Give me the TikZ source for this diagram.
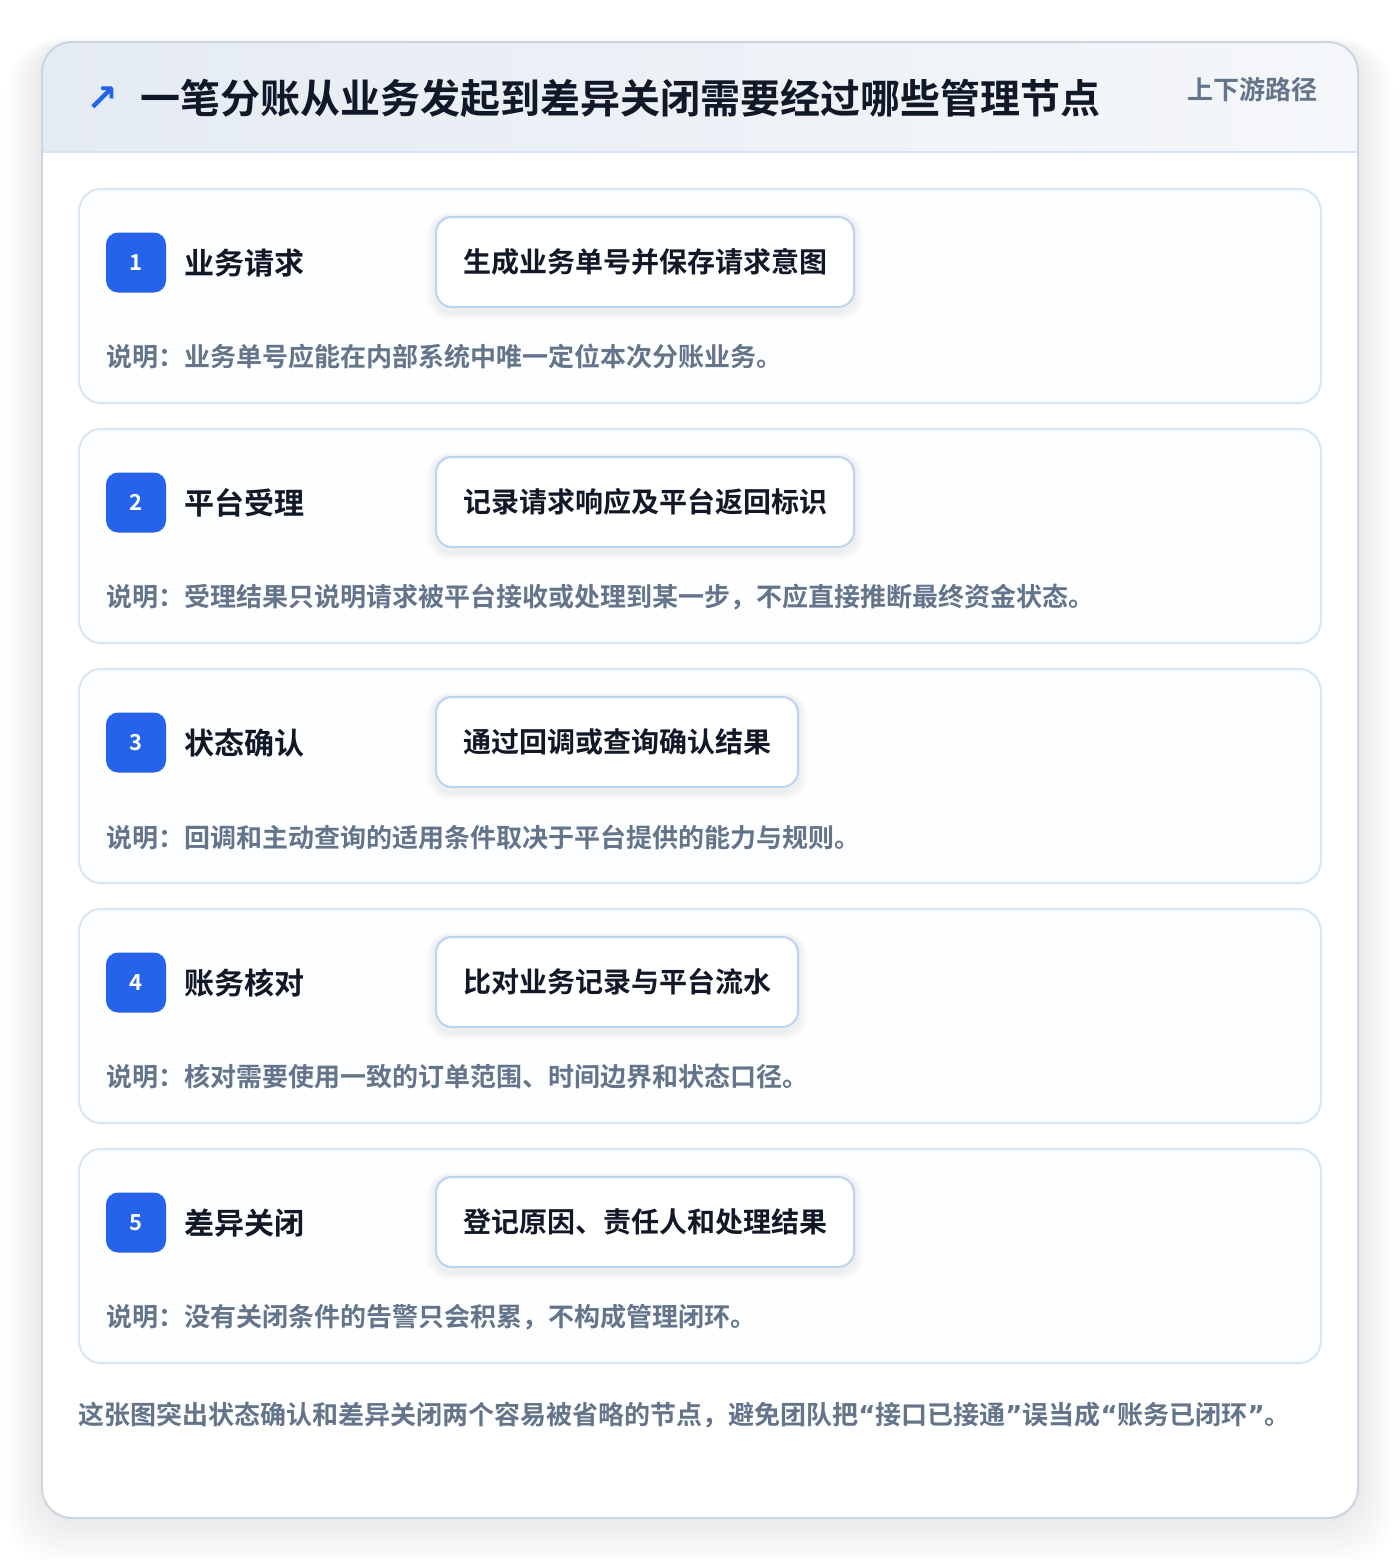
\documentclass[tikz,border=0pt]{standalone}
\usepackage{fontspec}
\setmainfont{Noto Sans CJK SC}[BoldFont={Noto Sans CJK SC Bold}]
\newfontfamily\symfont{DejaVu Sans}
\definecolor{pagebg}{HTML}{FFFFFF}
\definecolor{cardedge}{HTML}{CBD5E1}
\definecolor{headA}{HTML}{E5EBF3}
\definecolor{headB}{HTML}{F5F7FA}
\definecolor{headline}{HTML}{D3E2F4}
\definecolor{stepedge}{HTML}{D8E6F6}
\definecolor{stepfill}{HTML}{FDFEFF}
\definecolor{actedge}{HTML}{BCD4F1}
\definecolor{blueA}{HTML}{2563EB}
\definecolor{ink}{HTML}{111827}
\definecolor{muted}{HTML}{64748B}
\definecolor{shadowc}{HTML}{1E293B}
\begin{document}
\begin{tikzpicture}[x=0.5pt,y=-0.5pt,
  stepcard/.style={draw=stepedge, line width=1pt, fill=stepfill, rounded corners=11pt},
  badge/.style={fill=blueA, rounded corners=6pt, minimum width=30pt, minimum height=30pt, inner sep=0pt, text=white, font=\bfseries\fontsize{11}{13}\selectfont},
  steplabel/.style={anchor=west, inner sep=0pt, text=ink, font=\bfseries\fontsize{15}{18}\selectfont},
  actbox/.style={anchor=west, draw=actedge, line width=1pt, fill=white, rounded corners=8pt, minimum height=45pt, inner xsep=13.5pt, inner ysep=0pt, text=ink, font=\bfseries\fontsize{14}{17}\selectfont},
  desc/.style={anchor=west, inner sep=0pt, text=muted, font=\bfseries\fontsize{13}{16}\selectfont}
]
\useasboundingbox (0,0) rectangle (1400,1560);
\fill[pagebg] (0,0) rectangle (1400,1560);
% outer card shadow
\foreach \k in {1,...,20}{
  \fill[shadowc, opacity=0.0045, rounded corners=15pt+\k*0.6pt]
    (42-1.8*\k,42-0.4*\k+4) rectangle (1358+1.8*\k,1518+2.4*\k);
}
% outer card
\path[fill=white, rounded corners=15pt] (42,42) rectangle (1358,1518);
\begin{scope}
  \clip[rounded corners=15pt] (42,42) rectangle (1358,1518);
  \shade[left color=headA, right color=headB] (42,42) rectangle (1358,152);
\end{scope}
\draw[headline, line width=1pt] (42,152) -- (1358,152);
\draw[cardedge, line width=1pt, rounded corners=15pt] (42,42) rectangle (1358,1518);
% header texts
\node[inner sep=0pt, text=blueA, font=\symfont\bfseries\fontsize{19}{22}\selectfont] (arrowicon) at (102,99) {↗};
\node[anchor=west, inner sep=0pt, text=ink, font=\bfseries\fontsize{20}{24}\selectfont] (title) at (140,98) {一笔分账从业务发起到差异关闭需要经过哪些管理节点};
\node[anchor=east, inner sep=0pt, text=muted, font=\bfseries\fontsize{13}{16}\selectfont] (tag) at (1318,90) {上下游路径};
% steps
\foreach \i/\lab/\act/\txt in {
  1/业务请求/生成业务单号并保存请求意图/说明：业务单号应能在内部系统中唯一定位本次分账业务。,
  2/平台受理/记录请求响应及平台返回标识/说明：受理结果只说明请求被平台接收或处理到某一步，不应直接推断最终资金状态。,
  3/状态确认/通过回调或查询确认结果/说明：回调和主动查询的适用条件取决于平台提供的能力与规则。,
  4/账务核对/比对业务记录与平台流水/说明：核对需要使用一致的订单范围、时间边界和状态口径。,
  5/差异关闭/登记原因、责任人和处理结果/说明：没有关闭条件的告警只会积累，不构成管理闭环。}{
  \pgfmathsetmacro{\yy}{189+240*(\i-1)}
  \draw[stepcard] (79,\yy) rectangle (1321,\yy+214);
  \node[inner sep=0pt] (card\i) at (700,\yy+107) {};
  \node[badge] (badge\i) at (136,\yy+73.5) {\i};
  \node[steplabel] (label\i) at (184,\yy+74) {\lab};
  \node[actbox, draw=none, fill=none, opacity=0] (ghost\i) at (435,\yy+73) {\act};
  \foreach \k in {1,...,8}{
    \fill[shadowc, opacity=0.008, rounded corners=8pt+\k*0.5pt]
      ([xshift=-\k*0.6pt,yshift=-\k*0.5pt-2pt]ghost\i.south west) rectangle ([xshift=\k*0.6pt,yshift=\k*0.2pt]ghost\i.north east);
  }
  \node[actbox] (act\i) at (435,\yy+73) {\act};
  \node[desc] (desc\i) at (106,\yy+168) {\txt};
}
% footer
\node[desc] (footer) at (78,1415) {这张图突出状态确认和差异关闭两个容易被省略的节点，避免团队把{\symfont“}接口已接通{\symfont”}误当成{\symfont“}账务已闭环{\symfont”}。};
\end{tikzpicture}
\end{document}
